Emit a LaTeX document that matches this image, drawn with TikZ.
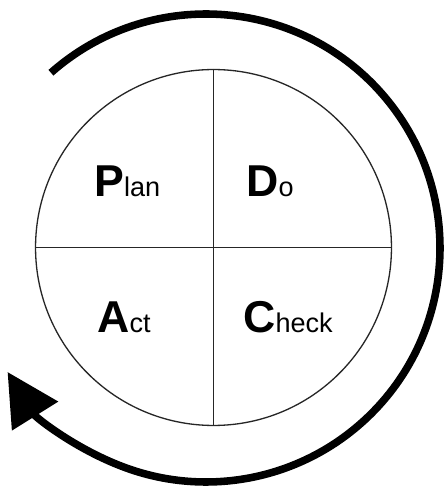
\documentclass[tikz,border=0pt]{standalone}
\usepackage{fontspec}
\setmainfont{Liberation Sans}
\usetikzlibrary{arrows.meta}

\newcommand\pdcacap[1]{{\fontsize{25.4}{30}\selectfont\bfseries #1}}

\begin{document}
\begin{tikzpicture}[
  x=0.02cm, y=0.02cm,
  wheelring/.style={circle, draw=black!85, line width=0.75pt, inner sep=0pt,
    minimum size=7.12cm},
  divider/.style={draw=black!85, line width=0.75pt},
  quarter/.style={anchor=base west, inner sep=0pt,
    font=\fontsize{15.4}{18}\selectfont},
  cyclearrow/.style={line width=4.3pt, -{Triangle[length=29.6pt, width=30pt]}}
]
  \useasboundingbox (0,0) rectangle (444,490);

  % The four quarters.
  \node[wheelring] (wheel) at (213.5,242.5) {};
  \draw[divider] (wheel.north) -- (wheel.south);
  \draw[divider] (wheel.west) -- (wheel.east);

  \node[quarter] (plan) at (94,293) {\pdcacap{P}lan};
  \node[quarter] (do) at (246,293) {\pdcacap{D}o};
  \node[quarter] (act) at (97,157) {\pdcacap{A}ct};
  \node[quarter] (check) at (243,157) {\pdcacap{C}heck};

  % Cycle arrow around the wheel.
  \coordinate (loopstart) at ([shift={(206,242)}]131.5:234);
  \draw[cyclearrow] (loopstart) arc[start angle=131.5, end angle=-148, radius=234];
\end{tikzpicture}
\end{document}
